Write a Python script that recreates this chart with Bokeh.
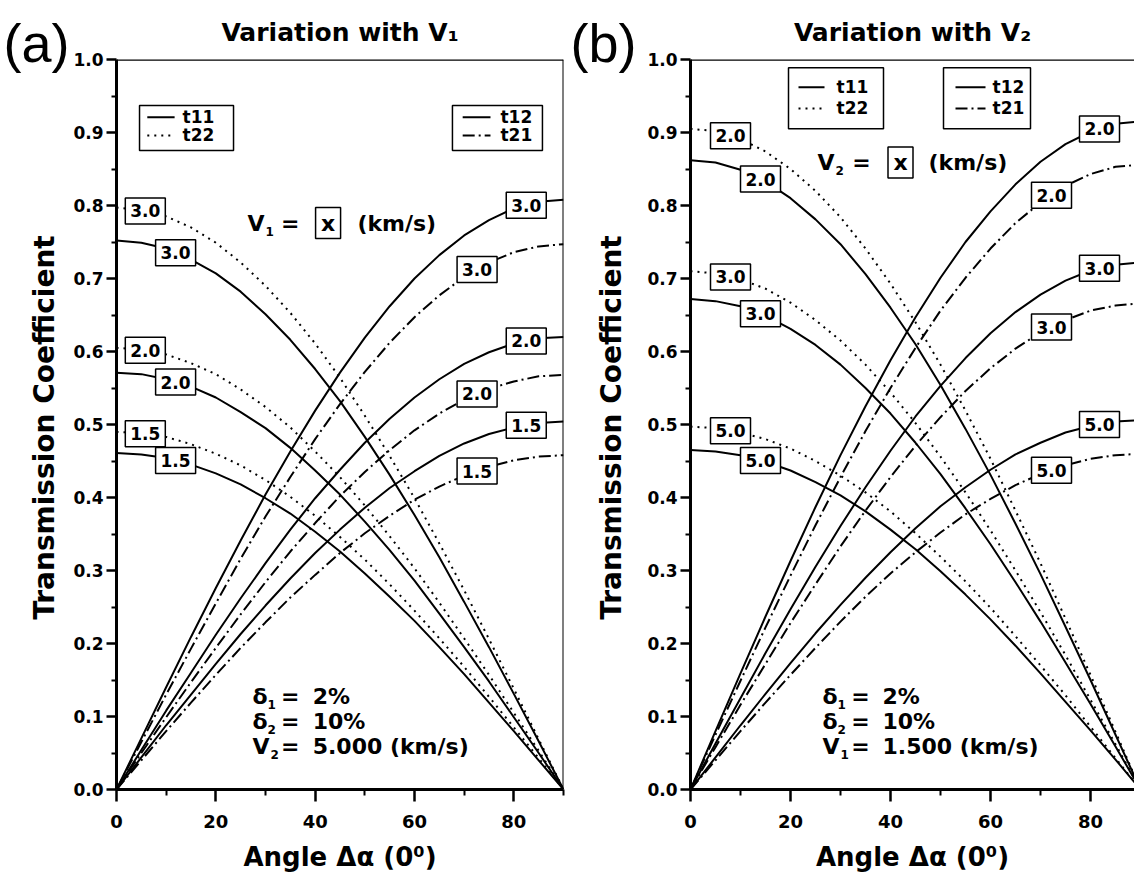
import numpy as np
from bokeh.plotting import figure
from bokeh.layouts import row
from bokeh.models import Range1d, FixedTicker, PrintfTickFormatter, Span
from bokeh.core.properties import value
from bokeh.embed import file_html
from bokeh.resources import INLINE

FONT = "DejaVu Sans"
TAG_FONT = "Liberation Sans"

# Angle of incidence difference (degrees)
angle = [0, 5, 10, 15, 20, 25, 30, 35, 40, 45, 50, 55, 60, 65, 70, 75, 80, 85, 90]

# ---- Panel (a): variation with V1 (km/s) ----
a_levels = ["3.0", "2.0", "1.5"]
a_t11 = [
    [0.752, 0.749, 0.741, 0.726, 0.707, 0.682, 0.651, 0.616, 0.576, 0.532, 0.483, 0.431, 0.376, 0.318, 0.257, 0.195, 0.131, 0.066, 0.000],
    [0.571, 0.569, 0.562, 0.552, 0.537, 0.517, 0.495, 0.468, 0.437, 0.404, 0.367, 0.328, 0.286, 0.241, 0.195, 0.148, 0.099, 0.050, 0.000],
    [0.461, 0.459, 0.454, 0.445, 0.433, 0.418, 0.399, 0.378, 0.353, 0.326, 0.296, 0.264, 0.231, 0.195, 0.158, 0.119, 0.080, 0.040, 0.000],
]
a_t22 = [
    [0.797, 0.794, 0.785, 0.770, 0.749, 0.722, 0.690, 0.653, 0.611, 0.564, 0.512, 0.457, 0.399, 0.337, 0.273, 0.206, 0.138, 0.069, 0.000],
    [0.605, 0.603, 0.596, 0.584, 0.569, 0.548, 0.524, 0.496, 0.463, 0.428, 0.389, 0.347, 0.303, 0.256, 0.207, 0.157, 0.105, 0.053, 0.000],
    [0.490, 0.488, 0.483, 0.473, 0.460, 0.444, 0.424, 0.401, 0.375, 0.346, 0.315, 0.281, 0.245, 0.207, 0.168, 0.127, 0.085, 0.043, 0.000],
]
a_t12 = [
    [0.000, 0.070, 0.140, 0.209, 0.276, 0.341, 0.404, 0.463, 0.519, 0.571, 0.619, 0.662, 0.700, 0.732, 0.759, 0.780, 0.796, 0.805, 0.808],
    [0.000, 0.054, 0.108, 0.160, 0.212, 0.262, 0.310, 0.356, 0.399, 0.438, 0.475, 0.508, 0.537, 0.562, 0.583, 0.599, 0.611, 0.618, 0.620],
    [0.000, 0.044, 0.088, 0.130, 0.172, 0.213, 0.252, 0.289, 0.324, 0.356, 0.386, 0.413, 0.436, 0.457, 0.474, 0.487, 0.496, 0.502, 0.504],
]
a_t21 = [
    [0.000, 0.065, 0.130, 0.193, 0.255, 0.316, 0.374, 0.428, 0.480, 0.528, 0.572, 0.612, 0.647, 0.677, 0.702, 0.722, 0.736, 0.744, 0.747],
    [0.000, 0.050, 0.099, 0.147, 0.194, 0.240, 0.284, 0.326, 0.365, 0.402, 0.435, 0.465, 0.492, 0.515, 0.534, 0.549, 0.559, 0.566, 0.568],
    [0.000, 0.040, 0.080, 0.119, 0.157, 0.194, 0.229, 0.263, 0.294, 0.324, 0.351, 0.375, 0.397, 0.415, 0.430, 0.442, 0.451, 0.456, 0.458],
]

# ---- Panel (b): variation with V2 (km/s) ----
b_levels = ["2.0", "3.0", "5.0"]
b_t11 = [
    [0.862, 0.859, 0.849, 0.833, 0.810, 0.781, 0.747, 0.706, 0.660, 0.610, 0.554, 0.494, 0.431, 0.364, 0.295, 0.223, 0.150, 0.075, 0.000],
    [0.672, 0.669, 0.662, 0.649, 0.631, 0.609, 0.582, 0.550, 0.515, 0.475, 0.432, 0.385, 0.336, 0.284, 0.230, 0.174, 0.117, 0.059, 0.000],
    [0.465, 0.463, 0.458, 0.449, 0.437, 0.421, 0.403, 0.381, 0.356, 0.329, 0.299, 0.267, 0.233, 0.197, 0.159, 0.120, 0.081, 0.041, 0.000],
]
b_t22 = [
    [0.905, 0.902, 0.891, 0.874, 0.850, 0.820, 0.784, 0.741, 0.693, 0.640, 0.582, 0.519, 0.453, 0.382, 0.310, 0.234, 0.157, 0.079, 0.000],
    [0.710, 0.707, 0.699, 0.686, 0.667, 0.643, 0.615, 0.582, 0.544, 0.502, 0.456, 0.407, 0.355, 0.300, 0.243, 0.184, 0.123, 0.062, 0.000],
    [0.497, 0.495, 0.489, 0.480, 0.467, 0.450, 0.430, 0.407, 0.381, 0.351, 0.319, 0.285, 0.249, 0.210, 0.170, 0.129, 0.086, 0.043, 0.000],
]
b_t12 = [
    [0.000, 0.080, 0.159, 0.237, 0.313, 0.387, 0.458, 0.525, 0.588, 0.647, 0.701, 0.750, 0.792, 0.829, 0.860, 0.884, 0.901, 0.912, 0.915],
    [0.000, 0.063, 0.125, 0.187, 0.247, 0.305, 0.361, 0.414, 0.464, 0.511, 0.553, 0.591, 0.625, 0.654, 0.678, 0.697, 0.711, 0.719, 0.722],
    [0.000, 0.044, 0.088, 0.131, 0.173, 0.214, 0.253, 0.290, 0.325, 0.358, 0.388, 0.414, 0.438, 0.459, 0.475, 0.489, 0.498, 0.504, 0.506],
]
b_t21 = [
    [0.000, 0.075, 0.149, 0.222, 0.293, 0.362, 0.428, 0.491, 0.550, 0.605, 0.656, 0.701, 0.741, 0.776, 0.804, 0.827, 0.843, 0.853, 0.856],
    [0.000, 0.058, 0.116, 0.172, 0.228, 0.281, 0.333, 0.382, 0.428, 0.471, 0.510, 0.546, 0.577, 0.604, 0.626, 0.643, 0.656, 0.663, 0.666],
    [0.000, 0.040, 0.080, 0.119, 0.157, 0.194, 0.230, 0.264, 0.296, 0.325, 0.352, 0.377, 0.398, 0.417, 0.432, 0.444, 0.453, 0.458, 0.460],
]

x_ticks = [0, 20, 40, 60, 80]
x_minor = [10, 30, 50, 70, 90]
y_ticks = [0.0, 0.1, 0.2, 0.3, 0.4, 0.5, 0.6, 0.7, 0.8, 0.9, 1.0]
y_minor = [0.05, 0.15, 0.25, 0.35, 0.45, 0.55, 0.65, 0.75, 0.85, 0.95]

STYLE = {
    "t11": dict(line_dash="solid", line_width=2),
    "t12": dict(line_dash="solid", line_width=2),
    "t22": dict(line_dash="2 5", line_width=2),
    "t21": dict(line_dash="12 4 2 4", line_width=2),
}

CANVAS_H = 874
TAG_W = 70


def txt(p, x, y, s, size="22px", align="left", style="bold", dx=0, dy=0):
    p.text(x=[x], y=[y], text=[s], text_font=value(FONT), text_font_style=style,
           text_font_size=size, text_align=align, text_baseline="middle", text_color="black",
           x_offset=dx, y_offset=dy)


def symbol(p, x, y, main, sub, main_w):
    # letter followed by a small lowered subscript digit
    txt(p, x, y, main)
    txt(p, x, y, sub, size="12px", dx=main_w + 1, dy=8)


def boxed(p, x, y, s, w=40, h=26, size="17px"):
    p.rect(x=x, y=y, width=w, height=h, width_units="screen", height_units="screen",
           fill_color="white", line_color="black", line_width=1.5)
    p.text(x=x, y=y, text=s, text_font=value(FONT), text_font_style="bold",
           text_font_size=size, text_align="center", text_baseline="middle", text_color="black")


def tag_figure(tag, ylabel):
    # narrow strip on the left: panel tag and the rotated y axis title
    f = figure(width=TAG_W, height=CANVAS_H, x_range=Range1d(0, TAG_W), y_range=Range1d(0, CANVAS_H),
               output_backend="svg", toolbar_location=None, min_border=0,
               x_axis_type=None, y_axis_type=None)
    if "frame_align" in f.properties():
        f.frame_align = False
    f.outline_line_color = None
    f.background_fill_color = "white"
    f.border_fill_color = "white"
    f.text(x=[3], y=[CANVAS_H - 42], text=[tag], text_font=value(TAG_FONT),
           text_font_size="54px", text_align="left", text_baseline="middle", text_color="black")
    f.text(x=[44], y=[CANVAS_H - 427], text=[ylabel], angle=np.pi / 2, text_font=value(FONT),
           text_font_style="bold", text_font_size="28px", text_align="center",
           text_baseline="middle", text_color="black")
    return f


def make_panel(xmax, border_left, border_right, title, levels, t11, t22, t12, t21, lab_x,
               legend_a, legend_b, vsub, note_lines, vrow, cols):
    p = figure(width=567 - TAG_W, height=CANVAS_H, x_range=Range1d(0, xmax), y_range=Range1d(0, 1),
               output_backend="svg", toolbar_location=None,
               min_border_left=border_left, min_border_right=border_right,
               min_border_top=59, min_border_bottom=84)
    p.grid.visible = False
    p.background_fill_color = "white"
    p.border_fill_color = "white"

    p.title.text = title
    p.title.align = "center"
    p.title.text_font = FONT
    p.title.text_font_size = "25px"
    p.title.text_font_style = "bold"
    p.title.text_color = "black"
    if "standoff" in p.title.properties():
        p.title.standoff = 26

    p.xaxis.ticker = FixedTicker(ticks=x_ticks, minor_ticks=x_minor)
    p.yaxis.ticker = FixedTicker(ticks=y_ticks, minor_ticks=y_minor)
    p.yaxis.formatter = PrintfTickFormatter(format="%.1f")
    for ax in (p.xaxis[0], p.yaxis[0]):
        ax.axis_line_width = 3
        ax.axis_line_color = "black"
        ax.major_tick_line_width = 2.5
        ax.minor_tick_line_width = 2
        ax.major_tick_in = 0
        ax.minor_tick_in = 0
        ax.major_label_text_font = FONT
        ax.major_label_text_font_style = "bold"
        ax.major_label_text_color = "black"
        ax.axis_label_text_font = FONT
        ax.axis_label_text_font_style = "bold"
        ax.axis_label_text_color = "black"
    p.xaxis.major_label_text_font_size = "18px"
    p.yaxis.major_label_text_font_size = "17px"
    p.xaxis.axis_label_text_font_size = "26px"
    p.xaxis.major_tick_out = 12
    p.xaxis.minor_tick_out = 6
    p.yaxis.major_tick_out = 10
    p.yaxis.minor_tick_out = 5
    p.xaxis.major_label_standoff = 13
    p.yaxis.major_label_standoff = 3
    p.xaxis.axis_label_standoff = 11
    p.xaxis.axis_label = "Angle Δα (0⁰)"

    p.outline_line_color = None
    p.add_layout(Span(location=1.0, dimension="width", line_color="black", line_width=2.5))
    if xmax >= 90:
        p.add_layout(Span(location=xmax, dimension="height", line_color="black", line_width=2))

    # curves
    for key, group in (("t11", t11), ("t22", t22), ("t12", t12), ("t21", t21)):
        for ys in group:
            p.line(angle, ys, line_color="black", **STYLE[key])

    # curve labels, placed on their curves
    for key, group in (("t11", t11), ("t22", t22), ("t12", t12), ("t21", t21)):
        lx = lab_x[key]
        xs = [lx] * len(group)
        ys = [float(np.interp(lx, angle, g)) for g in group]
        boxed(p, xs, ys, levels)

    # legends
    for (cx, cy, w, h, rows) in (legend_a, legend_b):
        p.rect(x=[cx], y=[cy], width=w, height=h, width_units="screen", height_units="screen",
               fill_color="white", line_color="black", line_width=1.5)
        for (x0, x1, xt, yr, key) in rows:
            p.line([x0, x1], [yr, yr], line_color="black", **STYLE[key])
            txt(p, xt, yr, key, size="17px")

    # parameter line:  V = [x] (km/s)
    vx, eqx, bx, ux, vy = vrow
    symbol(p, vx, vy, "V", vsub, 17)
    txt(p, eqx, vy, "=", align="center")
    p.rect(x=[bx], y=[vy], width=25, height=31, width_units="screen", height_units="screen",
           fill_color="white", line_color="black", line_width=1.5)
    txt(p, bx, vy, "x", align="center")
    txt(p, ux, vy, "(km/s)")

    # fixed parameters
    c0, c1, c2 = cols
    for (main, sub, val, yy) in note_lines:
        symbol(p, c0, yy, main, sub, 17 if main == "V" else 14)
        txt(p, c1, yy, "=", align="center")
        txt(p, c2, yy, val)
    return p


pa = make_panel(
    90, 46, 4, "Variation with V₁", a_levels, a_t11, a_t22, a_t12, a_t21,
    {"t22": 5.8, "t11": 11.9, "t12": 82.5, "t21": 72.6},
    (14.1, 0.906, 94, 45, [(6.2, 11.7, 13.3, 0.921, "t11"), (6.2, 11.7, 13.3, 0.896, "t22")]),
    (76.7, 0.906, 90, 45, [(69.7, 75.3, 77.3, 0.921, "t12"), (69.7, 75.3, 77.3, 0.896, "t21")]),
    "1",
    [("δ", "1", "2%", 0.127), ("δ", "2", "10%", 0.093), ("V", "2", "5.000  (km/s)", 0.059)],
    (26.4, 35.0, 42.6, 48.5, 0.776),
    (27.4, 35.0, 39.5),
)

pb = make_panel(
    88.8, 53, 0, "Variation with V₂", b_levels, b_t11, b_t22, b_t12, b_t21,
    {"t22": 8.0, "t11": 14.0, "t12": 81.8, "t21": 72.2},
    (29.1, 0.947, 95, 61, [(21.6, 26.8, 29.2, 0.962, "t11"), (21.6, 26.8, 29.2, 0.933, "t22")]),
    (59.3, 0.947, 87, 61, [(53.0, 59.0, 60.4, 0.962, "t12"), (53.0, 59.0, 60.4, 0.933, "t21")]),
    "2",
    [("δ", "1", "2%", 0.127), ("δ", "2", "10%", 0.093), ("V", "1", "1.500  (km/s)", 0.059)],
    (25.4, 34.2, 42.0, 47.6, 0.859),
    (26.4, 34.0, 38.4),
)

ta = tag_figure("(a)", "Transmission Coefficient")
tb = tag_figure("(b)", "Transmission Coefficient")

layout = row(ta, pa, tb, pb)
open("out.html", "w").write(file_html(layout, INLINE))
